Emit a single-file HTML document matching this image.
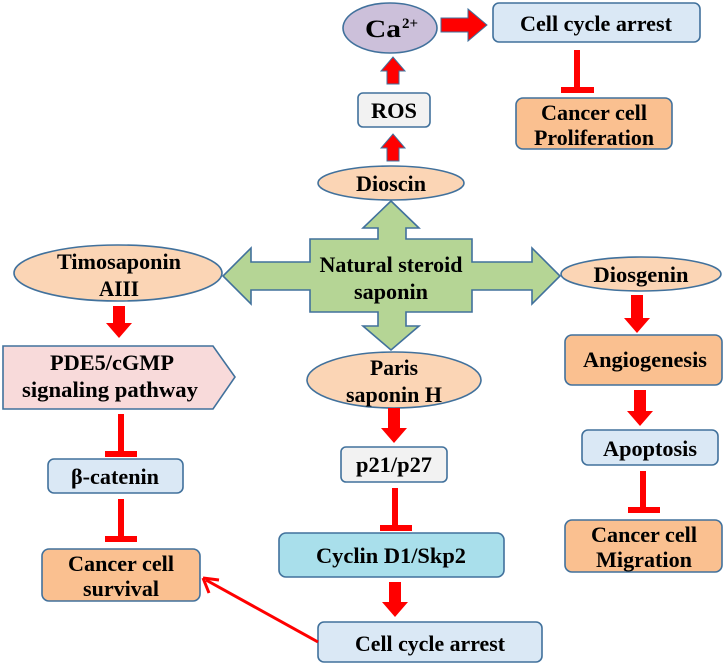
<!DOCTYPE html>
<html><head><meta charset="utf-8"><style>
html,body{margin:0;padding:0;background:#fff}
svg{display:block}
text{font-family:"Liberation Serif",serif;font-weight:bold;fill:#000;text-anchor:middle}
</style></head><body>
<svg width="726" height="665" viewBox="0 0 726 665" xmlns="http://www.w3.org/2000/svg">
<g stroke="#41719c" stroke-width="1.6">
<ellipse cx="390" cy="28" rx="47" ry="25" fill="#ccc0da"/>
<rect x="493" y="3" width="207" height="39" rx="6" fill="#dae8f5"/>
<rect x="516" y="98" width="156" height="51" rx="7" fill="#fac090"/>
<rect x="358" y="93" width="72" height="34" rx="5" fill="#f2f2f2"/>
<ellipse cx="391" cy="183" rx="73" ry="17" fill="#fbd5b5"/>
<path d="M391,201 L419,228 L406,228 L406,239 L472,239 L472,262 L532,262 L532,248 L560,276 L532,304 L532,290 L472,290 L472,312 L406,312 L406,326 L419,326 L391,350 L363,326 L378,326 L378,312 L310,312 L310,290 L251,290 L251,304 L223,276 L251,248 L251,262 L310,262 L310,239 L378,239 L378,228 L363,228 Z" fill="#b5d595"/>
<ellipse cx="118" cy="273" rx="104" ry="28" fill="#fbd5b5"/>
<ellipse cx="641" cy="274" rx="80" ry="17" fill="#fbd5b5"/>
<path d="M3,346 L213,346 L235,377 L213,409 L3,409 Z" fill="#f8dada"/>
<rect x="48" y="459" width="135" height="34" rx="6" fill="#dae8f5"/>
<rect x="42" y="549" width="158" height="52" rx="7" fill="#fac090"/>
<ellipse cx="394" cy="380" rx="87" ry="28" fill="#fbd5b5"/>
<rect x="341" y="447" width="106" height="35" rx="5" fill="#f2f2f2"/>
<rect x="279" y="533" width="225" height="44" rx="7" fill="#a9dfeb"/>
<rect x="318" y="622" width="224" height="40" rx="6" fill="#dae8f5"/>
<rect x="565" y="335" width="157" height="50" rx="7" fill="#fac090"/>
<rect x="582" y="430" width="136" height="35" rx="6" fill="#dae8f5"/>
<rect x="565" y="520" width="157" height="52" rx="7" fill="#fac090"/>
</g>
<g fill="#ff0000">
<path d="M441,18 L468,18 L468,9 L487,25 L468,41 L468,32 L441,32 Z" stroke="#41719c" stroke-width="1"/>
<path d="M387,84 L387,71 L381,71 L393,57 L405,71 L399,71 L399,84 Z" stroke="#41719c" stroke-width="1"/>
<path d="M387,161 L387,148 L381,148 L393,134 L405,148 L399,148 L399,161 Z" stroke="#41719c" stroke-width="1"/>
<path d="M113,306 L125,306 L125,323 L132,323 L119,338 L106,323 L113,323 Z"/>
<path d="M631,295 L643,295 L643,318 L650,318 L637,333 L624,318 L631,318 Z"/>
<path d="M388,408 L400,408 L400,428 L407,428 L394,443 L381,428 L388,428 Z"/>
<path d="M389,582 L401,582 L401,602 L408,602 L395,617 L382,602 L389,602 Z"/>
<path d="M634,390 L646,390 L646,411 L653,411 L640,426 L627,411 L634,411 Z"/>
<rect x="574" y="50" width="6" height="38"/><rect x="561" y="87" width="33" height="6"/>
<rect x="118" y="414" width="6" height="38"/><rect x="105" y="451" width="32" height="6"/>
<rect x="118" y="499" width="6" height="38"/><rect x="105" y="536" width="32" height="6"/>
<rect x="392" y="488" width="6" height="38"/><rect x="380" y="525" width="32" height="6"/>
<rect x="640" y="471" width="6" height="38"/><rect x="628" y="507" width="32" height="6"/>
</g>
<line x1="318" y1="642" x2="206" y2="580" stroke="#ff0000" stroke-width="3"/>
<path d="M203,578 L219,580 M203,578 L209,593" stroke="#ff0000" stroke-width="3" fill="none"/>
<g font-size="22">
<text x="383" y="37" font-size="25" textLength="36" lengthAdjust="spacingAndGlyphs">Ca</text>
<text x="410" y="28" font-size="15">2+</text>
<text x="596" y="31" textLength="152" lengthAdjust="spacingAndGlyphs">Cell cycle arrest</text>
<text x="594" y="120" textLength="106" lengthAdjust="spacingAndGlyphs">Cancer cell</text>
<text x="594" y="145" textLength="120" lengthAdjust="spacingAndGlyphs">Proliferation</text>
<text x="394" y="118" textLength="46" lengthAdjust="spacingAndGlyphs">ROS</text>
<text x="391" y="191" textLength="70" lengthAdjust="spacingAndGlyphs">Dioscin</text>
<text x="391" y="272" textLength="143" lengthAdjust="spacingAndGlyphs">Natural steroid</text>
<text x="391" y="299" textLength="74" lengthAdjust="spacingAndGlyphs">saponin</text>
<text x="119" y="269" textLength="124" lengthAdjust="spacingAndGlyphs">Timosaponin</text>
<text x="119" y="296" textLength="40" lengthAdjust="spacingAndGlyphs">AIII</text>
<text x="641" y="282" textLength="95" lengthAdjust="spacingAndGlyphs">Diosgenin</text>
<text x="112" y="370" textLength="124" lengthAdjust="spacingAndGlyphs">PDE5/cGMP</text>
<text x="110" y="397" textLength="176" lengthAdjust="spacingAndGlyphs">signaling pathway</text>
<text x="115" y="484" textLength="88" lengthAdjust="spacingAndGlyphs">β-catenin</text>
<text x="121" y="571" textLength="106" lengthAdjust="spacingAndGlyphs">Cancer cell</text>
<text x="121" y="596" textLength="76" lengthAdjust="spacingAndGlyphs">survival</text>
<text x="394" y="375" textLength="48" lengthAdjust="spacingAndGlyphs">Paris</text>
<text x="394" y="402" textLength="96" lengthAdjust="spacingAndGlyphs">saponin H</text>
<text x="394" y="472" textLength="76" lengthAdjust="spacingAndGlyphs">p21/p27</text>
<text x="391" y="563" textLength="150" lengthAdjust="spacingAndGlyphs">Cyclin D1/Skp2</text>
<text x="430" y="651" textLength="150" lengthAdjust="spacingAndGlyphs">Cell cycle arrest</text>
<text x="645" y="367" textLength="124" lengthAdjust="spacingAndGlyphs">Angiogenesis</text>
<text x="650" y="456" textLength="94" lengthAdjust="spacingAndGlyphs">Apoptosis</text>
<text x="644" y="542" textLength="106" lengthAdjust="spacingAndGlyphs">Cancer cell</text>
<text x="644" y="567" textLength="96" lengthAdjust="spacingAndGlyphs">Migration</text>
</g>
</svg>
</body></html>
